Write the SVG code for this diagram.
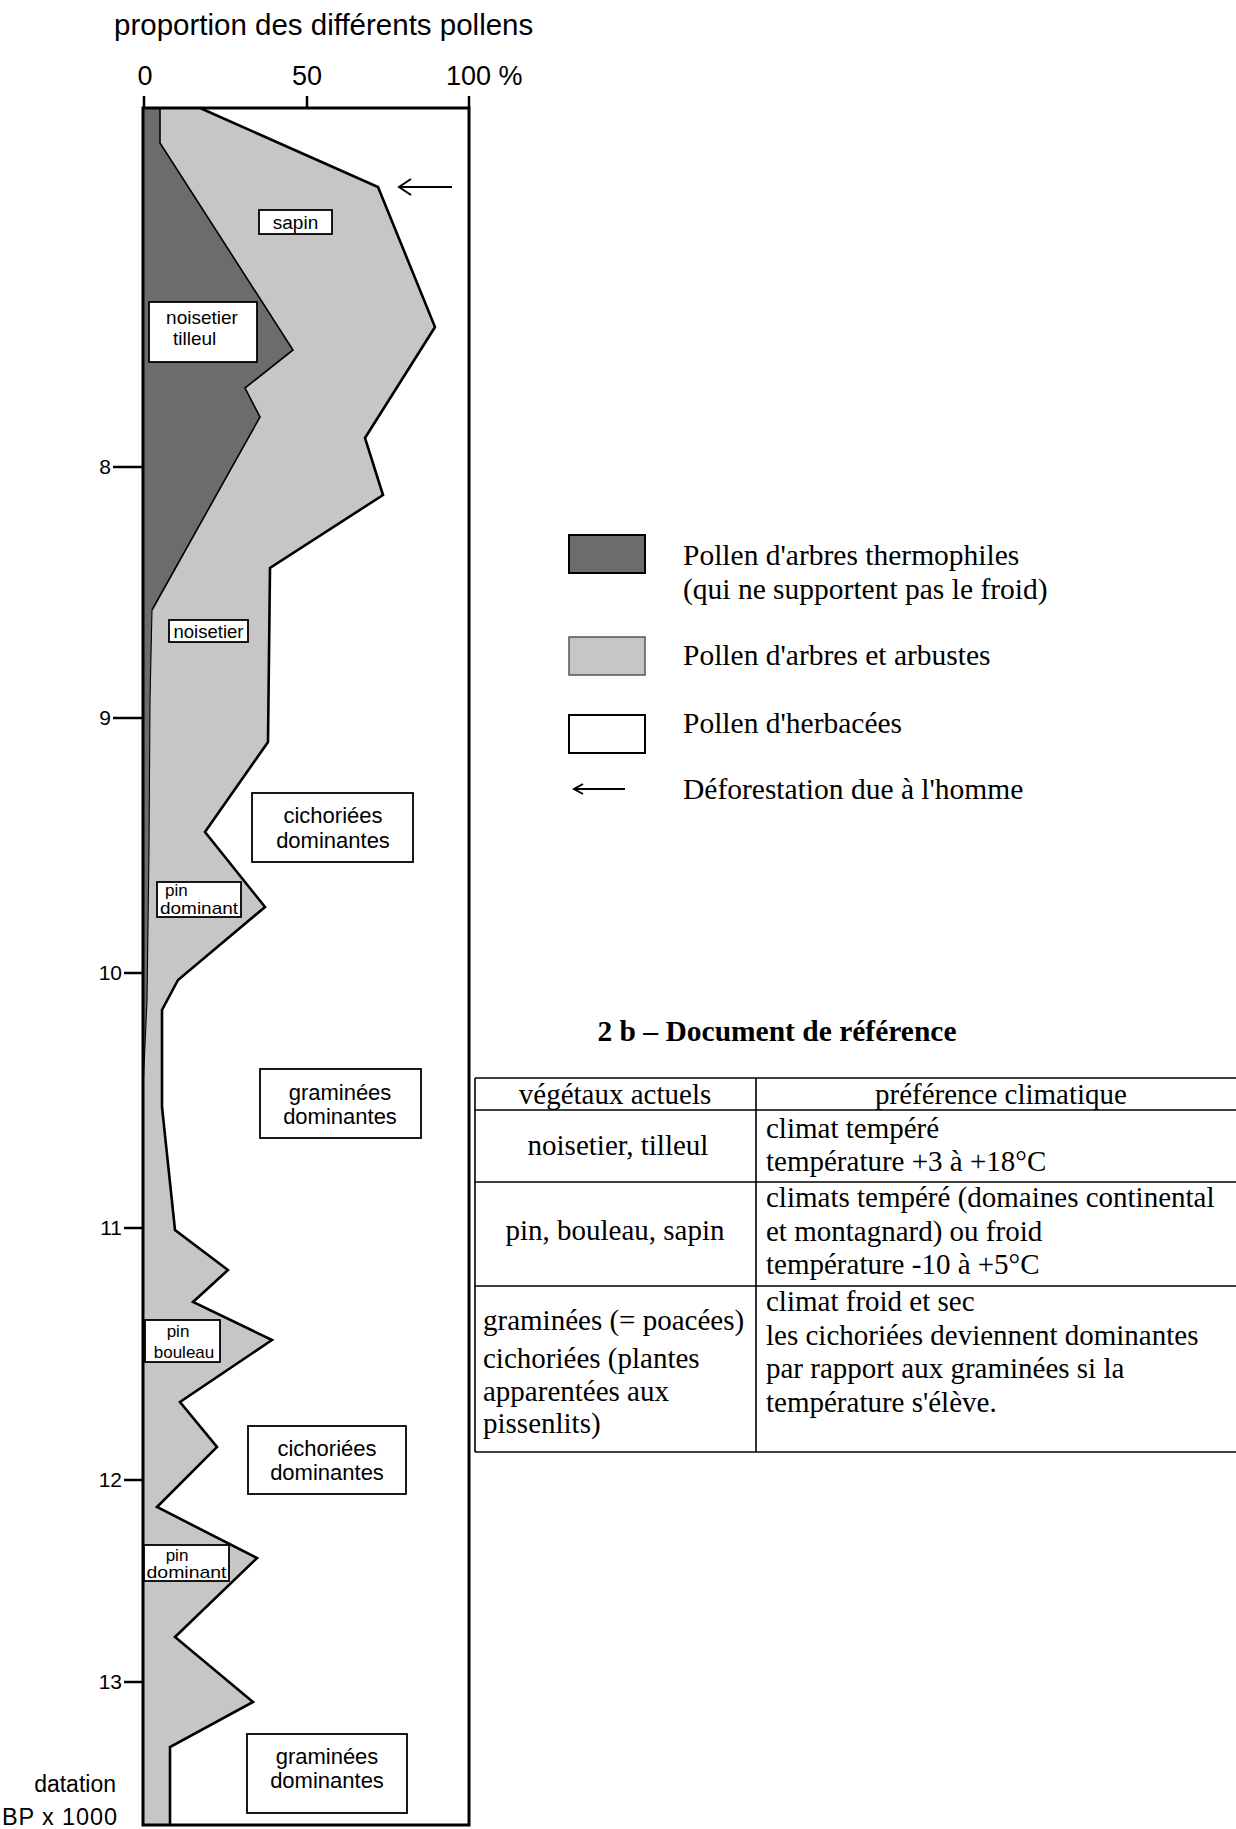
<svg xmlns="http://www.w3.org/2000/svg" width="1236" height="1829" viewBox="0 0 1236 1829">
<style>
.sans{font-family:"Liberation Sans",Arial,sans-serif;fill:#000}
.serif{font-family:"Liberation Serif","Times New Roman",serif;fill:#000}
.box{fill:#fff;stroke:#000;stroke-width:1.8}
.lbl{font-size:22px;text-anchor:middle}
.sm{font-size:17px}
.ax{font-size:21px;text-anchor:end}
.leg{font-size:29.5px}
.tbl{font-size:29px}
.ln{stroke:#000;fill:none}
.dark{fill:#6c6c6c}
.light{fill:#c6c6c6}
</style>
<rect width="1236" height="1829" fill="#fff"/>

<g id="chart">
  <polygon class="light" points="160,108 200,108 378,187 435,327 365,438 383,495 270,568 268,742 205,832 265,907 178,980 162,1010 162,1107 175,1230 228,1270 193,1302 272,1340 180,1402 217,1447 157,1507 257,1558 175,1637 253,1702 170,1747 170,1825 143,1825 143,108"/>
  <polygon class="dark" points="143,108 160,108 160,143 293,350 245,388 260,417 152,610 150,700 149,850 147,1000 143,1090"/>
  <path class="ln" stroke-width="2.6" stroke-linejoin="miter" d="M200,108 L378,187 L435,327 L365,438 L383,495 L270,568 L268,742 L205,832 L265,907 L178,980 L162,1010 L162,1107 L175,1230 L228,1270 L193,1302 L272,1340 L180,1402 L217,1447 L157,1507 L257,1558 L175,1637 L253,1702 L170,1747 L170,1825"/>
  <path class="ln" stroke-width="1.6" d="M160,108 L160,143 L293,350 L245,388 L260,417 L152,610"/>
  <path class="ln" stroke-width="1.1" d="M152,610 L150,700 L149,850 L147,1000 L143,1090"/>
  <rect x="143" y="108" width="326" height="1717" fill="none" stroke="#000" stroke-width="3"/>
  <g class="ln" stroke-width="2.5">
    <line x1="144" y1="96" x2="144" y2="108"/>
    <line x1="307" y1="96" x2="307" y2="108"/>
    <line x1="469" y1="96" x2="469" y2="108"/>
    <line x1="113" y1="467" x2="143" y2="467"/>
    <line x1="113" y1="718" x2="143" y2="718"/>
    <line x1="124" y1="973" x2="143" y2="973"/>
    <line x1="124" y1="1228" x2="143" y2="1228"/>
    <line x1="124" y1="1480" x2="143" y2="1480"/>
    <line x1="124" y1="1682" x2="143" y2="1682"/>
  </g>
  <text class="sans" x="114" y="35" font-size="29.5">proportion des différents pollens</text>
  <text class="sans" x="145" y="85" font-size="27" text-anchor="middle">0</text>
  <text class="sans" x="307" y="85" font-size="27" text-anchor="middle">50</text>
  <text class="sans" x="446" y="85" font-size="27">100 %</text>
  <text class="sans ax" x="111" y="474">8</text>
  <text class="sans ax" x="111" y="725">9</text>
  <text class="sans ax" x="122" y="980">10</text>
  <text class="sans ax" x="122" y="1235">11</text>
  <text class="sans ax" x="122" y="1487">12</text>
  <text class="sans ax" x="122" y="1689">13</text>
  <text class="sans" x="116" y="1792" font-size="23" text-anchor="end">datation</text>
  <text class="sans" x="117" y="1825" font-size="23.5" text-anchor="end" textLength="115" lengthAdjust="spacing">BP x 1000</text>
</g>

<g id="label-sapin">
  <rect class="box" x="259" y="210" width="73" height="24"/>
  <text class="sans" x="295.5" y="229" font-size="19" text-anchor="middle">sapin</text>
</g>
<g id="label-noisetier-tilleul">
  <rect class="box" x="149" y="302" width="108" height="60"/>
  <text class="sans" x="202" y="324" font-size="19" text-anchor="middle">noisetier</text>
  <text class="sans" x="173" y="345" font-size="19">tilleul</text>
</g>
<g id="label-noisetier">
  <rect class="box" x="169" y="620" width="79" height="22"/>
  <text class="sans" x="208.5" y="638" font-size="18.5" text-anchor="middle">noisetier</text>
</g>
<g id="label-cichoriees-1">
  <rect class="box" x="252" y="793" width="161" height="69"/>
  <text class="sans lbl" x="333" y="823">cichoriées</text>
  <text class="sans lbl" x="333" y="848">dominantes</text>
</g>
<g id="label-pin-dominant-1">
  <rect class="box" x="157" y="882" width="84" height="35"/>
  <text class="sans sm" x="165" y="896">pin</text>
  <text class="sans sm" x="199" y="914" text-anchor="middle" textLength="78" lengthAdjust="spacingAndGlyphs">dominant</text>
</g>
<g id="label-graminees-1">
  <rect class="box" x="260" y="1069" width="161" height="69"/>
  <text class="sans lbl" x="340" y="1100">graminées</text>
  <text class="sans lbl" x="340" y="1124">dominantes</text>
</g>
<g id="label-pin-bouleau">
  <rect class="box" x="145" y="1320" width="75" height="42"/>
  <text class="sans sm" x="178" y="1337" text-anchor="middle">pin</text>
  <text class="sans sm" x="184" y="1358" text-anchor="middle">bouleau</text>
</g>
<g id="label-cichoriees-2">
  <rect class="box" x="248" y="1426" width="158" height="68"/>
  <text class="sans lbl" x="327" y="1456">cichoriées</text>
  <text class="sans lbl" x="327" y="1480">dominantes</text>
</g>
<g id="label-pin-dominant-2">
  <rect class="box" x="144" y="1545" width="85" height="36"/>
  <text class="sans sm" x="177" y="1561" text-anchor="middle">pin</text>
  <text class="sans sm" x="186.5" y="1578" text-anchor="middle" textLength="80" lengthAdjust="spacingAndGlyphs">dominant</text>
</g>
<g id="label-graminees-2">
  <rect class="box" x="247" y="1734" width="160" height="79"/>
  <text class="sans lbl" x="327" y="1764">graminées</text>
  <text class="sans lbl" x="327" y="1788">dominantes</text>
</g>

<g id="connectors" class="ln" stroke-width="2">
  <line x1="452" y1="187" x2="399" y2="187"/>
  <polyline points="411,179 399,187 411,195"/>
  <line x1="625" y1="789" x2="574" y2="789"/>
  <polyline points="583,784 574,789 583,794"/>
</g>

<g id="legend-thermophiles">
  <rect x="569" y="535" width="76" height="38" fill="#6c6c6c" stroke="#000" stroke-width="2"/>
  <text class="serif leg" x="683" y="565">Pollen d'arbres thermophiles</text>
  <text class="serif leg" x="683" y="599">(qui ne supportent pas le froid)</text>
</g>
<g id="legend-arbres">
  <rect x="569" y="637" width="76" height="38" fill="#c6c6c6" stroke="#555" stroke-width="1.5"/>
  <text class="serif leg" x="683" y="665">Pollen d'arbres et arbustes</text>
</g>
<g id="legend-herbacees">
  <rect x="569" y="715" width="76" height="38" fill="#fff" stroke="#000" stroke-width="2"/>
  <text class="serif leg" x="683" y="733">Pollen d'herbacées</text>
</g>
<g id="legend-deforestation">
  <text class="serif leg" x="683" y="799">Déforestation due à l'homme</text>
</g>

<g id="reference-table">
  <text class="serif" x="777" y="1041" font-size="29.5" font-weight="bold" text-anchor="middle">2 b – Document de référence</text>
  <g class="ln" stroke-width="1.6">
    <line x1="475" y1="1078" x2="1236" y2="1078"/>
    <line x1="475" y1="1110" x2="1236" y2="1110"/>
    <line x1="475" y1="1182" x2="1236" y2="1182"/>
    <line x1="475" y1="1286" x2="1236" y2="1286"/>
    <line x1="475" y1="1452" x2="1236" y2="1452"/>
    <line x1="475" y1="1078" x2="475" y2="1452"/>
    <line x1="756" y1="1078" x2="756" y2="1452"/>
  </g>
  <text class="serif tbl" x="615" y="1104" text-anchor="middle">végétaux actuels</text>
  <text class="serif tbl" x="1001" y="1104" text-anchor="middle">préférence climatique</text>
  <text class="serif tbl" x="618" y="1155" text-anchor="middle">noisetier, tilleul</text>
  <text class="serif tbl" x="766" y="1138">climat tempéré</text>
  <text class="serif tbl" x="766" y="1171">température +3 à +18°C</text>
  <text class="serif tbl" x="615" y="1240" text-anchor="middle">pin, bouleau, sapin</text>
  <text class="serif tbl" x="766" y="1207">climats tempéré (domaines continental</text>
  <text class="serif tbl" x="766" y="1241">et montagnard) ou froid</text>
  <text class="serif tbl" x="766" y="1274">température -10 à +5°C</text>
  <text class="serif tbl" x="483" y="1330">graminées (= poacées)</text>
  <text class="serif tbl" x="483" y="1368">cichoriées (plantes</text>
  <text class="serif tbl" x="483" y="1401">apparentées aux</text>
  <text class="serif tbl" x="483" y="1433">pissenlits)</text>
  <text class="serif tbl" x="766" y="1311">climat froid et sec</text>
  <text class="serif tbl" x="766" y="1345">les cichoriées deviennent dominantes</text>
  <text class="serif tbl" x="766" y="1378">par rapport aux graminées si la</text>
  <text class="serif tbl" x="766" y="1412">température s'élève.</text>
</g>
</svg>
